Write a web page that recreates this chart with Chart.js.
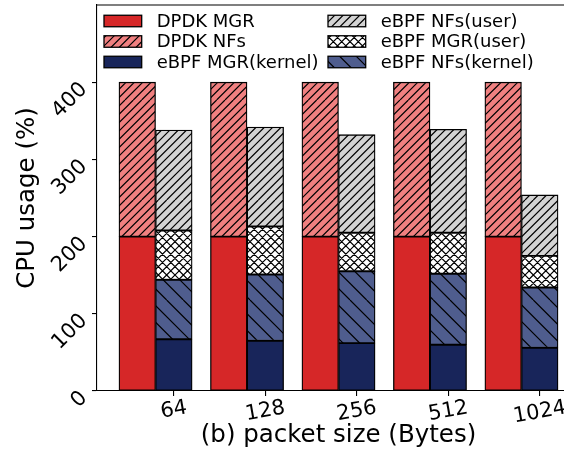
<!DOCTYPE html>
<html>
<head>
<meta charset="utf-8">
<script src="https://cdn.jsdelivr.net/npm/chart.js@4/dist/chart.umd.min.js"></script>
<style>
  html, body { margin: 0; padding: 0; background: #fff; overflow: hidden; width: 564px; height: 450px; }
  #wrap { position: relative; width: 580px; height: 450px; }
</style>
</head>
<body>
<div id="wrap"><canvas id="c"></canvas></div>
<script>
// CPU usage (%) per packet size, stacked per framework
const packetSizes   = ['64', '128', '256', '512', '1024'];
const dpdkMgr       = [200, 200, 200, 200, 200];
const dpdkNfs       = [200, 200, 200, 200, 200];
const ebpfMgrKernel = [67, 65, 62, 60, 56];
const ebpfNfsKernel = [77, 86, 93, 92, 78];
const ebpfMgrUser   = [64, 62, 50, 53, 41];
const ebpfNfsUser   = [130, 129, 127, 134, 79];
const yTicks        = [0, 100, 200, 300, 400];

const FONT = "'DejaVu Sans', 'Liberation Sans', sans-serif";
const TICK_FONT = 21;
const canvas = document.getElementById('c');
const mainCtx = canvas.getContext('2d');

// Hatched fill: base colour plus black lines on a 100px repeating tile
function hatch(base, kind, lines) {
  const S = 100;
  const tile = document.createElement('canvas');
  tile.width = S; tile.height = S;
  const g = tile.getContext('2d');
  g.fillStyle = base;
  g.fillRect(0, 0, S, S);
  if (kind) {
    g.strokeStyle = '#000';
    g.lineWidth = 1.2;
    const step = S / lines;
    g.beginPath();
    for (let k = -lines; k <= 2 * lines; k++) {
      const o = k * step;
      if (kind === '/' || kind === 'x') { g.moveTo(o, S); g.lineTo(o + S, 0); }
      if (kind === '\\' || kind === 'x') { g.moveTo(o, 0); g.lineTo(o + S, S); }
    }
    g.stroke();
  }
  return mainCtx.createPattern(tile, 'repeat');
}

const fills = {
  dpdkMgr: '#d62728',
  dpdkNfs: hatch('#f08080', '/', 12),
  ebpfMgrKernel: '#18255a',
  ebpfNfsKernel: hatch('#4f5d8e', '\\', 6),
  ebpfMgrUser: hatch('#ffffff', 'x', 12),
  ebpfNfsUser: hatch('#d3d3d3', '/', 12)
};

// DPDK bar sits left of each tick, eBPF bar is centred on the tick
const DPDK_SHIFT = -0.4;
function series(label, values, fill, shift, stack) {
  return {
    label,
    data: values.map((v, i) => ({ x: i + shift, y: v })),
    backgroundColor: fill,
    borderColor: '#000',
    borderWidth: 1.3,
    borderSkipped: false,
    stack
  };
}

const datasets = [
  series('DPDK MGR', dpdkMgr, fills.dpdkMgr, DPDK_SHIFT, 'dpdk'),
  series('DPDK NFs', dpdkNfs, fills.dpdkNfs, DPDK_SHIFT, 'dpdk'),
  series('eBPF MGR(kernel)', ebpfMgrKernel, fills.ebpfMgrKernel, 0, 'ebpf'),
  series('eBPF NFs(kernel)', ebpfNfsKernel, fills.ebpfNfsKernel, 0, 'ebpf'),
  series('eBPF MGR(user)', ebpfMgrUser, fills.ebpfMgrUser, 0, 'ebpf'),
  series('eBPF NFs(user)', ebpfNfsUser, fills.ebpfNfsUser, 0, 'ebpf')
];

// Two-column legend, column-major
const legendColumns = [[0, 1, 2], [5, 4, 3]];

const decor = {
  id: 'decor',
  afterDraw(chart) {
    const { ctx, chartArea: a, scales: { x } } = chart;
    ctx.save();

    // top and right spines
    ctx.strokeStyle = '#000';
    ctx.lineWidth = 1.1;
    ctx.beginPath();
    ctx.moveTo(a.left, a.top);
    ctx.lineTo(a.right, a.top);
    ctx.lineTo(a.right, a.bottom);
    ctx.stroke();

    // x tick labels, rotated and centred under each tick
    const ang = 10 * Math.PI / 180;
    ctx.font = TICK_FONT + 'px ' + FONT;
    ctx.fillStyle = '#000';
    ctx.textAlign = 'center';
    ctx.textBaseline = 'middle';
    packetSizes.forEach((lab, i) => {
      const px = x.getPixelForValue(i);
      const w = ctx.measureText(lab).width;
      const h = TICK_FONT * 0.95;
      const H = w * Math.sin(ang) + h * Math.cos(ang);
      const cy = a.bottom + 7 + H / 2;
      ctx.save();
      ctx.translate(px, cy);
      ctx.rotate(-ang);
      ctx.fillText(lab, 0, 0);
      ctx.restore();
    });

    // legend
    const colX = [a.left + 7, a.left + 231];
    const rowY = [21, 41.5, 62];
    const pw = 37.7, ph = 11.5;
    ctx.font = '18px ' + FONT;
    ctx.textAlign = 'left';
    ctx.textBaseline = 'middle';
    legendColumns.forEach((col, ci) => {
      col.forEach((di, ri) => {
        const ds = chart.data.datasets[di];
        const px = colX[ci], py = rowY[ri] - ph / 2;
        ctx.fillStyle = ds.backgroundColor;
        ctx.fillRect(px, py, pw, ph);
        ctx.strokeStyle = '#000';
        ctx.lineWidth = 1.3;
        ctx.strokeRect(px, py, pw, ph);
        ctx.fillStyle = '#000';
        ctx.fillText(ds.label, px + 52.7, rowY[ri] + 1);
      });
    });
    ctx.restore();
  }
};

new Chart(canvas, {
  type: 'bar',
  data: { datasets },
  plugins: [decor],
  options: {
    animation: false,
    responsive: true,
    maintainAspectRatio: false,
    devicePixelRatio: 1,
    layout: { padding: { top: 5, left: 0, right: 0, bottom: 0 } },
    plugins: { legend: { display: false }, tooltip: { enabled: false } },
    datasets: { bar: { grouped: false, categoryPercentage: 1, barPercentage: 1 } },
    scales: {
      x: {
        type: 'linear',
        min: -0.84,
        max: 4.44,
        offset: false,
        grid: { display: true, offset: false, drawOnChartArea: false, drawTicks: true, tickLength: 5, color: '#000', lineWidth: 1.1 },
        border: { display: true, color: '#000', width: 1.1 },
        ticks: { display: false },
        afterBuildTicks: s => { s.ticks = packetSizes.map((_, i) => ({ value: i })); },
        afterFit: s => { s.height = 59; s.paddingLeft = 0; s.paddingRight = 0; },
        title: { display: true, text: '(b) packet size (Bytes)', color: '#000', font: { family: FONT, size: 24.5, lineHeight: 1.2 }, padding: { top: 0, bottom: 0 } }
      },
      y: {
        stacked: true,
        min: 0,
        max: 500,
        afterBuildTicks: s => { s.ticks = yTicks.map(v => ({ value: v })); },
        afterFit: s => { s.width = 97; s.paddingTop = 0; s.paddingBottom = 0; },
        grid: { drawOnChartArea: false, drawTicks: true, tickLength: 5, color: '#000', lineWidth: 1.1 },
        border: { display: true, color: '#000', width: 1.1 },
        ticks: { color: '#000', font: { family: FONT, size: TICK_FONT }, minRotation: 45, maxRotation: 45, padding: 8, labelOffset: 4 },
        title: { display: true, text: 'CPU usage (%)', color: '#000', font: { family: FONT, size: 24.5, lineHeight: 1.2 }, padding: { top: 13, bottom: 0 } }
      }
    }
  }
});
</script>
</body>
</html>
